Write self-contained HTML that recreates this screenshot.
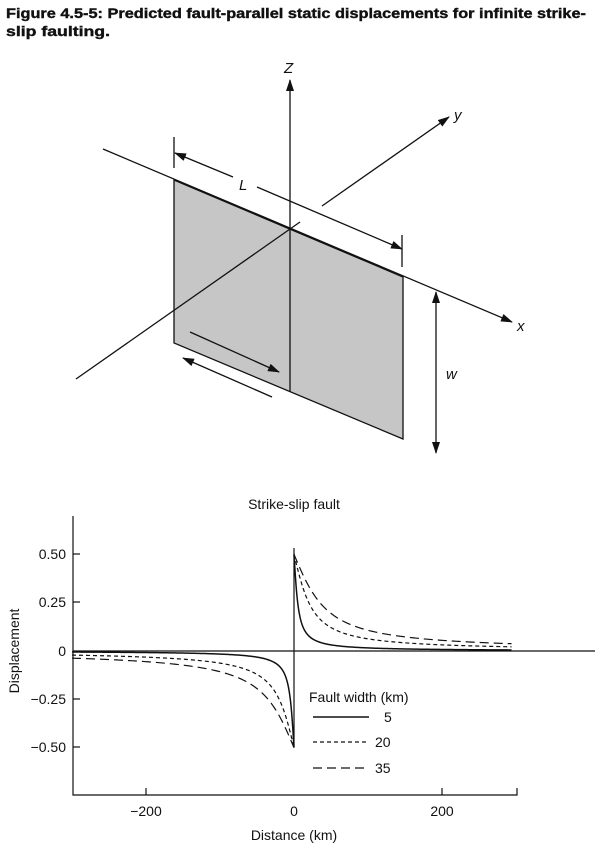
<!DOCTYPE html>
<html><head><meta charset="utf-8"><style>
html,body{margin:0;padding:0;background:#fff;}
svg{display:block;}
text{font-family:"Liberation Sans",sans-serif;fill:#111;}
</style></head><body>
<svg id="s" width="600" height="856" viewBox="0 0 600 856" xmlns="http://www.w3.org/2000/svg">
<defs>
<marker id="ah" markerWidth="12" markerHeight="8" refX="11" refY="4" orient="auto" markerUnits="userSpaceOnUse">
<path d="M0,0 L12,4 L0,8 Z" fill="#111"/></marker>
</defs>
<text x="6" y="18" font-size="14" font-weight="bold" stroke="#111" stroke-width="0.4" textLength="580" lengthAdjust="spacingAndGlyphs">Figure 4.5-5: Predicted fault-parallel static displacements for infinite strike-</text>
<text x="6" y="36" font-size="14" font-weight="bold" stroke="#111" stroke-width="0.4" textLength="104" lengthAdjust="spacingAndGlyphs">slip faulting.</text>

<g stroke="#111" stroke-width="1.3" fill="none">
<polygon points="174,180 403,277 403,439 174,343" fill="#c6c6c6"/>
<line x1="103" y1="149" x2="512" y2="322" marker-end="url(#ah)"/>
<line x1="290" y1="392" x2="290" y2="80" marker-end="url(#ah)"/>
<line x1="76" y1="379" x2="300" y2="222"/>
<line x1="322" y1="206" x2="449" y2="117" marker-end="url(#ah)"/>
<line x1="174" y1="137" x2="174" y2="168"/>
<line x1="402" y1="235" x2="402" y2="267"/>
<line x1="233" y1="177" x2="175" y2="153" marker-end="url(#ah)"/>
<line x1="257" y1="187" x2="402" y2="249" marker-end="url(#ah)"/>
<line x1="436" y1="372" x2="436" y2="292" marker-end="url(#ah)"/>
<line x1="436" y1="372" x2="436" y2="453" marker-end="url(#ah)"/>
<line x1="190" y1="332" x2="279" y2="372" marker-end="url(#ah)"/>
<line x1="272" y1="397" x2="183" y2="358" marker-end="url(#ah)"/>
</g>
<g font-size="15" font-style="italic">
<text x="284" y="73">Z</text>
<text x="454" y="120">y</text>
<text x="517" y="331">x</text>
<text x="239" y="190">L</text>
<text x="446" y="379">w</text>
</g>

<text x="294" y="509" font-size="14" text-anchor="middle">Strike-slip fault</text>
<g stroke="#111" stroke-width="1.2" fill="none">
<polyline points="73,516 73,795 517,795 517,788"/>
<line x1="73" y1="651" x2="595" y2="651"/>
<line x1="294" y1="548" x2="294" y2="747"/>
<line x1="73" y1="554" x2="80" y2="554"/>
<line x1="73" y1="602" x2="80" y2="602"/>
<line x1="73" y1="699" x2="80" y2="699"/>
<line x1="73" y1="747" x2="80" y2="747"/>
<line x1="146" y1="795" x2="146" y2="788"/>
<line x1="442" y1="795" x2="442" y2="788"/>
<path id="c5" stroke-width="1.5"/>
<path id="c20" stroke-dasharray="4,3"/>
<path id="c35" stroke-dasharray="9,5"/>
<line x1="313" y1="717" x2="369" y2="717" stroke-width="1.5"/>
<line x1="313" y1="742" x2="369" y2="742" stroke-dasharray="4,3"/>
<line x1="313" y1="768" x2="369" y2="768" stroke-dasharray="9,5"/>
</g>
<g font-size="14">
<text x="66" y="559" text-anchor="end">0.50</text>
<text x="66" y="607" text-anchor="end">0.25</text>
<text x="66" y="656" text-anchor="end">0</text>
<text x="66" y="704" text-anchor="end">−0.25</text>
<text x="66" y="752" text-anchor="end">−0.50</text>
<text x="146" y="816" text-anchor="middle">−200</text>
<text x="294" y="816" text-anchor="middle">0</text>
<text x="442" y="816" text-anchor="middle">200</text>
<text x="294" y="840" text-anchor="middle">Distance (km)</text>
<text transform="translate(19,651) rotate(-90)" text-anchor="middle">Displacement</text>
<text x="309" y="702">Fault width (km)</text>
<text x="384" y="722">5</text>
<text x="375" y="747">20</text>
<text x="375" y="773">35</text>
</g>
</svg>
<script>
function mk2(W){var xs=[];for(var x=-300;x<0;x+=(x<-20?2:0.25))xs.push(x);xs.push(-0.01);
var s="";xs.forEach(function(x,i){var u=Math.atan(W/x)/Math.PI;s+=(i?" L":"M")+(294+x*0.74).toFixed(2)+","+(651-u*193.4).toFixed(2);});
var xs2=[0.01];for(var x=0.25;x<=295;x+=(x<20?0.25:2))xs2.push(x);
xs2.forEach(function(x,i){var u=Math.atan(W/x)/Math.PI;s+=(i?" L":" M")+(294+x*0.74).toFixed(2)+","+(651-u*193.4).toFixed(2);});
return s;}
document.getElementById("c5").setAttribute("d",mk2(5));
document.getElementById("c20").setAttribute("d",mk2(20));
document.getElementById("c35").setAttribute("d",mk2(35));
</script>
</body></html>
